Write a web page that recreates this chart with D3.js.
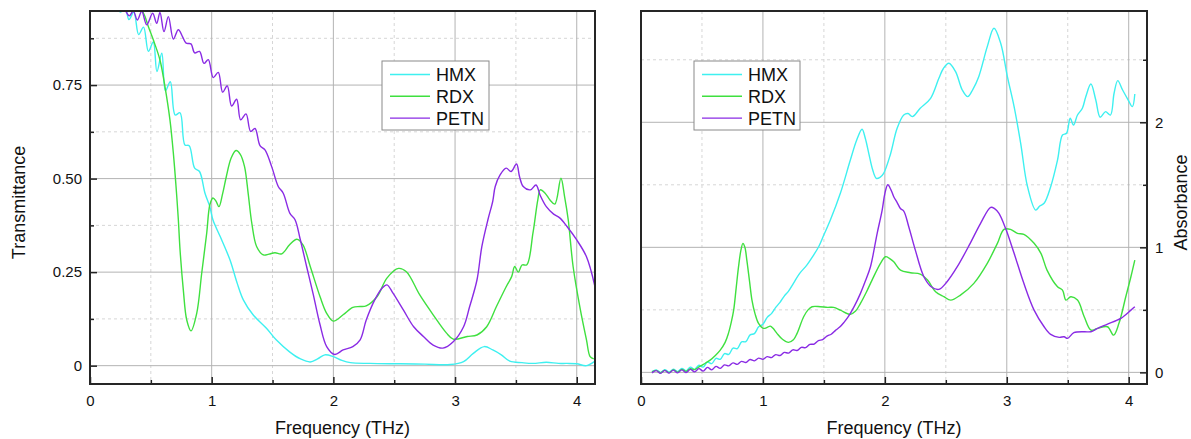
<!DOCTYPE html>
<html>
<head>
<meta charset="utf-8">
<script src="https://cdn.jsdelivr.net/npm/d3@7"></script>
<style>
  html, body { margin: 0; padding: 0; background: #fff; }
  svg { display: block; font-family: Arial, "Liberation Sans", sans-serif; }
</style>
</head>
<body>
<svg id="chart" width="1191" height="439"></svg>
<script>
// ---- data: frequency (THz) vs. value ----
const seriesNames = ["HMX", "RDX", "PETN"];
const seriesColors = ["#3ef0f0", "#3fe03f", "#8a2be4"];

const xTicks = [0, 1, 2, 3, 4];
const xMinorTicks = [0.5, 1.5, 2.5, 3.5];
const transTicks = [0, 0.25, 0.5, 0.75];
const transTickLabels = ["0", "0.25", "0.50", "0.75"];
const transMinorTicks = [0.125, 0.375, 0.625, 0.875];
const absTicks = [0, 1, 2];
const absMinorTicks = [0.5, 1.5, 2.5];

// Transmittance spectra
const transHMX = [
  [0.20,0.98],[0.25,0.945],[0.29,0.955],[0.32,0.925],[0.36,0.945],[0.40,0.885],[0.44,0.905],
  [0.48,0.840],[0.52,0.865],[0.55,0.786],[0.59,0.835],[0.62,0.735],[0.66,0.759],[0.70,0.670],
  [0.74,0.676],[0.78,0.590],[0.815,0.588],[0.86,0.528],[0.90,0.519],[0.945,0.461],[0.985,0.425],
  [1.01,0.39],[1.07,0.345],[1.15,0.283],[1.21,0.22],[1.26,0.176],[1.34,0.136],[1.45,0.10],
  [1.53,0.069],[1.64,0.037],[1.73,0.018],[1.81,0.010],[1.87,0.018],[1.93,0.029],[2.0,0.024],
  [2.07,0.014],[2.14,0.008],[2.3,0.006],[2.55,0.005],[2.75,0.004],[2.96,0.003],[3.07,0.011],
  [3.15,0.033],[3.24,0.051],[3.31,0.042],[3.38,0.029],[3.45,0.012],[3.55,0.008],[3.64,0.006],
  [3.75,0.009],[3.85,0.006],[3.92,0.006],[4.0,0.005],[4.08,0.0],[4.15,0.012]
];
const transRDX = [
  [0.35,0.98],[0.44,0.942],[0.48,0.906],[0.53,0.862],[0.575,0.817],[0.616,0.746],[0.657,0.657],
  [0.685,0.568],[0.707,0.479],[0.726,0.39],[0.74,0.309],[0.767,0.202],[0.795,0.122],[0.83,0.093],
  [0.877,0.14],[0.918,0.247],[0.959,0.354],[0.985,0.43],[1.01,0.448],[1.035,0.44],[1.06,0.425],
  [1.09,0.46],[1.12,0.505],[1.16,0.555],[1.20,0.575],[1.235,0.565],[1.27,0.532],[1.30,0.46],
  [1.33,0.38],[1.37,0.318],[1.425,0.296],[1.47,0.298],[1.52,0.302],[1.575,0.299],[1.64,0.323],
  [1.70,0.338],[1.75,0.323],[1.81,0.265],[1.89,0.185],[1.945,0.14],[2.0,0.119],[2.08,0.136],
  [2.16,0.156],[2.22,0.158],[2.27,0.16],[2.36,0.185],[2.44,0.234],[2.535,0.26],[2.60,0.251],
  [2.71,0.189],[2.82,0.136],[2.93,0.087],[2.985,0.071],[3.10,0.078],[3.18,0.082],[3.26,0.104],
  [3.34,0.158],[3.42,0.211],[3.465,0.238],[3.49,0.265],[3.52,0.25],[3.55,0.269],[3.59,0.27],
  [3.64,0.354],[3.68,0.443],[3.70,0.47],[3.74,0.461],[3.78,0.443],[3.82,0.432],[3.87,0.501],
  [3.90,0.452],[3.93,0.39],[3.97,0.265],[4.03,0.149],[4.08,0.069],[4.11,0.024],[4.14,0.018]
];
const transPETN = [
  [0.25,0.975],[0.29,0.95],[0.323,0.935],[0.356,0.948],[0.389,0.924],[0.425,0.947],[0.466,0.911],
  [0.515,0.942],[0.548,0.915],[0.575,0.944],[0.608,0.893],[0.644,0.933],[0.685,0.873],[0.726,0.898],
  [0.762,0.878],[0.79,0.862],[0.83,0.860],[0.86,0.836],[0.90,0.840],[0.937,0.808],[0.972,0.818],
  [1.013,0.770],[1.054,0.784],[1.09,0.731],[1.128,0.748],[1.164,0.694],[1.205,0.712],[1.238,0.657],
  [1.282,0.673],[1.32,0.626],[1.356,0.634],[1.397,0.588],[1.438,0.577],[1.493,0.532],[1.547,0.479],
  [1.588,0.461],[1.643,0.407],[1.685,0.39],[1.726,0.34],[1.78,0.265],[1.835,0.19],[1.89,0.11],
  [1.945,0.051],[2.01,0.030],[2.08,0.042],[2.16,0.051],[2.22,0.069],[2.27,0.122],[2.34,0.176],
  [2.40,0.207],[2.44,0.216],[2.49,0.194],[2.575,0.149],[2.66,0.104],[2.74,0.078],[2.82,0.055],
  [2.90,0.047],[2.985,0.064],[3.07,0.104],[3.12,0.158],[3.18,0.229],[3.22,0.318],[3.27,0.39],
  [3.31,0.44],[3.33,0.479],[3.37,0.51],[3.42,0.528],[3.46,0.519],[3.505,0.539],[3.53,0.505],
  [3.56,0.479],[3.62,0.47],[3.665,0.483],[3.70,0.455],[3.75,0.425],[3.81,0.405],[3.86,0.395],
  [3.92,0.372],[4.0,0.336],[4.08,0.291],[4.15,0.211]
];

// Absorbance spectra
const absHMX = [
  [0.09,0.006],[0.125,0.020],[0.16,0.000],[0.195,0.022],[0.23,0.002],[0.265,0.026],[0.30,0.006],
  [0.335,0.032],[0.37,0.012],[0.405,0.042],[0.44,0.024],[0.475,0.058],[0.51,0.042],[0.545,0.082],
  [0.58,0.070],[0.615,0.112],[0.65,0.104],[0.685,0.150],[0.72,0.144],[0.755,0.194],[0.79,0.190],
  [0.825,0.244],[0.86,0.246],[0.895,0.300],[0.93,0.310],[0.965,0.364],[1.0,0.384],[1.035,0.440],
  [1.07,0.470],[1.105,0.520],[1.14,0.560],[1.175,0.610],[1.21,0.650],[1.25,0.712],[1.30,0.79],
  [1.36,0.858],[1.41,0.93],[1.457,1.005],[1.50,1.10],[1.553,1.218],[1.635,1.432],[1.717,1.698],
  [1.77,1.86],[1.813,1.944],[1.84,1.87],[1.868,1.752],[1.90,1.62],[1.93,1.552],[1.96,1.56],
  [1.99,1.592],[2.046,1.745],[2.10,1.95],[2.155,2.058],[2.19,2.07],[2.225,2.045],[2.29,2.112],
  [2.375,2.192],[2.443,2.352],[2.48,2.43],[2.525,2.472],[2.58,2.405],[2.635,2.258],[2.68,2.205],
  [2.72,2.26],[2.77,2.365],[2.84,2.605],[2.895,2.752],[2.95,2.632],[3.005,2.365],[3.06,2.125],
  [3.114,1.832],[3.17,1.485],[3.237,1.298],[3.27,1.33],[3.306,1.352],[3.36,1.485],[3.416,1.698],
  [3.457,1.898],[3.49,1.912],[3.52,2.032],[3.547,1.978],[3.58,2.058],[3.62,2.112],[3.648,2.205],
  [3.69,2.306],[3.73,2.178],[3.766,2.04],[3.81,2.085],[3.85,2.058],[3.88,2.232],[3.91,2.333],
  [3.95,2.258],[3.996,2.178],[4.03,2.125],[4.05,2.226]
];
const absRDX = [
  [0.09,0.004],[0.125,0.016],[0.16,-0.004],[0.195,0.016],[0.23,-0.002],[0.265,0.020],[0.30,0.002],
  [0.335,0.024],[0.37,0.008],[0.405,0.030],[0.44,0.022],[0.485,0.05],[0.53,0.075],[0.567,0.098],
  [0.61,0.135],[0.65,0.178],[0.69,0.24],[0.717,0.312],[0.74,0.40],[0.76,0.498],[0.78,0.67],
  [0.80,0.845],[0.82,0.98],[0.836,1.032],[0.852,1.0],[0.868,0.898],[0.89,0.73],[0.91,0.578],
  [0.935,0.47],[0.964,0.392],[1.005,0.352],[1.035,0.36],[1.06,0.37],[1.085,0.35],[1.115,0.312],
  [1.16,0.265],[1.21,0.24],[1.25,0.26],[1.28,0.312],[1.334,0.445],[1.37,0.50],[1.403,0.525],
  [1.47,0.525],[1.53,0.52],[1.58,0.52],[1.635,0.498],[1.717,0.464],[1.76,0.49],[1.80,0.552],
  [1.85,0.645],[1.895,0.738],[1.964,0.872],[2.005,0.925],[2.04,0.91],[2.073,0.885],[2.128,0.818],
  [2.21,0.797],[2.29,0.786],[2.35,0.738],[2.416,0.645],[2.484,0.605],[2.54,0.578],[2.62,0.618],
  [2.73,0.712],[2.84,0.872],[2.923,1.032],[2.977,1.144],[3.03,1.144],[3.087,1.112],[3.14,1.104],
  [3.224,1.032],[3.28,0.952],[3.33,0.818],[3.416,0.685],[3.457,0.658],[3.485,0.578],[3.525,0.605],
  [3.58,0.578],[3.635,0.445],[3.69,0.338],[3.745,0.352],[3.826,0.365],[3.876,0.298],[3.92,0.392],
  [3.976,0.605],[4.018,0.765],[4.05,0.898]
];
const absPETN = [
  [0.09,-0.004],[0.125,0.014],[0.16,-0.008],[0.195,0.016],[0.23,-0.006],[0.265,0.018],[0.30,-0.004],
  [0.335,0.020],[0.37,-0.002],[0.405,0.024],[0.44,0.004],[0.475,0.030],[0.51,0.010],[0.545,0.040],
  [0.58,0.020],[0.615,0.048],[0.65,0.032],[0.685,0.060],[0.72,0.052],[0.755,0.076],[0.79,0.064],
  [0.825,0.088],[0.86,0.079],[0.895,0.103],[0.93,0.092],[0.965,0.114],[1.0,0.104],[1.035,0.126],
  [1.07,0.118],[1.105,0.142],[1.14,0.135],[1.175,0.160],[1.21,0.154],[1.245,0.180],[1.28,0.175],
  [1.315,0.200],[1.35,0.198],[1.385,0.224],[1.42,0.226],[1.455,0.253],[1.49,0.262],[1.525,0.290],
  [1.56,0.305],[1.595,0.336],[1.63,0.362],[1.665,0.400],[1.70,0.445],[1.75,0.53],[1.80,0.632],
  [1.84,0.73],[1.882,0.845],[1.937,1.112],[1.978,1.298],[2.0,1.43],[2.024,1.50],[2.05,1.46],
  [2.073,1.405],[2.10,1.36],[2.128,1.31],[2.155,1.29],[2.196,1.165],[2.25,0.978],[2.32,0.765],
  [2.38,0.685],[2.443,0.664],[2.51,0.725],[2.594,0.845],[2.70,1.032],[2.785,1.192],[2.868,1.32],
  [2.90,1.31],[2.936,1.272],[2.99,1.152],[3.06,0.952],[3.14,0.712],[3.224,0.498],[3.306,0.365],
  [3.36,0.304],[3.43,0.28],[3.47,0.285],[3.498,0.272],[3.55,0.317],[3.635,0.325],[3.69,0.325],
  [3.745,0.352],[3.826,0.386],[3.935,0.432],[4.018,0.498],[4.05,0.525]
];

// ---- drawing ----
const svg = d3.select("#chart");

const panels = [
  {
    id: "trans", left: 90, right: 595, top: 11, bottom: 384,
    xDomain: [0, 4.15], yDomain: [-0.049, 0.948],
    yTicks: transTicks, yLabels: transTickLabels, yMinor: transMinorTicks,
    series: [transHMX, transRDX, transPETN],
    yTitle: "Transmittance", yAxisSide: "left",
    legend: { x: 382, y: 61, w: 107, h: 69 }
  },
  {
    id: "abs", left: 641, right: 1147, top: 11, bottom: 384,
    xDomain: [0, 4.15], yDomain: [-0.093, 2.89],
    yTicks: absTicks, yLabels: absTicks.map(String), yMinor: absMinorTicks,
    series: [absHMX, absRDX, absPETN],
    yTitle: "Absorbance", yAxisSide: "right",
    legend: { x: 694, y: 61, w: 106, h: 69 }
  }
];

const tickFont = 15, titleFont = 18, legendFont = 18;

panels.forEach(p => {
  const x = d3.scaleLinear().domain(p.xDomain).range([p.left, p.right]);
  const y = d3.scaleLinear().domain(p.yDomain).range([p.bottom, p.top]);
  const g = svg.append("g").attr("class", "panel-" + p.id);
  const w = p.right - p.left, h = p.bottom - p.top;

  // minor grid (dashed)
  const grid = g.append("g").attr("class", "grid");
  grid.selectAll("line.vmin").data(xMinorTicks).join("line")
    .attr("x1", d => x(d)).attr("x2", d => x(d))
    .attr("y1", p.top).attr("y2", p.bottom)
    .attr("stroke", "#d6d6d6").attr("stroke-width", 1).attr("stroke-dasharray", "3,3");
  grid.selectAll("line.hmin").data(p.yMinor).join("line")
    .attr("x1", p.left).attr("x2", p.right)
    .attr("y1", d => y(d)).attr("y2", d => y(d))
    .attr("stroke", "#d6d6d6").attr("stroke-width", 1).attr("stroke-dasharray", "3,3");
  // major grid (solid)
  grid.selectAll("line.vmaj").data(xTicks.filter(t => t > p.xDomain[0])).join("line")
    .attr("class", "vmaj")
    .attr("x1", d => x(d)).attr("x2", d => x(d))
    .attr("y1", p.top).attr("y2", p.bottom)
    .attr("stroke", "#b3b3b3").attr("stroke-width", 1);
  grid.selectAll("line.hmaj").data(p.yTicks).join("line")
    .attr("class", "hmaj")
    .attr("x1", p.left).attr("x2", p.right)
    .attr("y1", d => y(d)).attr("y2", d => y(d))
    .attr("stroke", "#b3b3b3").attr("stroke-width", 1);

  // clip region for the spectra
  const clipId = "clip-" + p.id;
  svg.append("clipPath").attr("id", clipId)
    .append("rect").attr("x", p.left).attr("y", p.top).attr("width", w).attr("height", h);

  const line = d3.line()
    .x(d => x(d[0])).y(d => y(d[1]))
    .curve(d3.curveCatmullRom.alpha(0.5));

  g.append("g").attr("clip-path", `url(#${clipId})`)
    .selectAll("path").data(p.series).join("path")
    .attr("d", line)
    .attr("fill", "none")
    .attr("stroke", (d, i) => seriesColors[i])
    .attr("stroke-width", 1.4)
    .attr("stroke-linejoin", "round");

  // axes: ticks point inward
  const xAxis = d3.axisBottom(x).tickValues(xTicks).tickFormat(d3.format("d"))
    .tickSize(-7).tickPadding(11);
  const xMinorAxis = d3.axisBottom(x).tickValues(xMinorTicks).tickFormat("").tickSize(-4);
  g.append("g").attr("transform", `translate(0,${p.bottom})`).call(xAxis);
  g.append("g").attr("transform", `translate(0,${p.bottom})`).call(xMinorAxis);

  let yAxis, yMinorAxis, yPos;
  if (p.yAxisSide === "left") {
    yAxis = d3.axisLeft(y); yMinorAxis = d3.axisLeft(y); yPos = p.left;
  } else {
    yAxis = d3.axisRight(y); yMinorAxis = d3.axisRight(y); yPos = p.right;
  }
  yAxis.tickValues(p.yTicks).tickFormat((d, i) => p.yLabels[i]).tickSize(-7).tickPadding(8);
  yMinorAxis.tickValues(p.yMinor).tickFormat("").tickSize(-4);
  g.append("g").attr("transform", `translate(${yPos},0)`).call(yAxis);
  g.append("g").attr("transform", `translate(${yPos},0)`).call(yMinorAxis);

  g.selectAll(".domain").remove();
  g.selectAll(".tick line").attr("stroke", "#222").attr("stroke-width", 1.5);
  g.selectAll(".tick text").attr("fill", "#111").attr("font-size", tickFont)
    .attr("font-family", "Arial, 'Liberation Sans', sans-serif");

  // frame
  g.append("rect")
    .attr("x", p.left).attr("y", p.top).attr("width", w).attr("height", h)
    .attr("fill", "none").attr("stroke", "#262626").attr("stroke-width", 2);

  // axis titles
  g.append("text")
    .attr("x", (p.left + p.right) / 2).attr("y", 434)
    .attr("text-anchor", "middle").attr("font-size", titleFont).attr("fill", "#111")
    .text("Frequency (THz)");
  const tx = p.yAxisSide === "left" ? 25 : 1187;
  g.append("text")
    .attr("transform", `translate(${tx},${(p.top + p.bottom) / 2 + 5}) rotate(-90)`)
    .attr("text-anchor", "middle").attr("font-size", titleFont).attr("fill", "#111")
    .text(p.yTitle);

  // legend
  const L = p.legend;
  const lg = g.append("g").attr("class", "legend");
  lg.append("rect").attr("x", L.x).attr("y", L.y).attr("width", L.w).attr("height", L.h)
    .attr("fill", "#fff").attr("stroke", "#8a8a8a").attr("stroke-width", 1);
  const rows = lg.selectAll("g.row").data(seriesNames).join("g")
    .attr("transform", (d, i) => `translate(${L.x + 8},${L.y + 13.5 + i * 21.8})`);
  rows.append("line").attr("x1", 0).attr("x2", 40).attr("y1", 0).attr("y2", 0)
    .attr("stroke", (d, i) => seriesColors[i]).attr("stroke-width", 1.4);
  rows.append("text").attr("x", 46).attr("y", 0).attr("dy", "0.36em")
    .attr("font-size", legendFont).attr("fill", "#111").text(d => d);
});
</script>
</body>
</html>
